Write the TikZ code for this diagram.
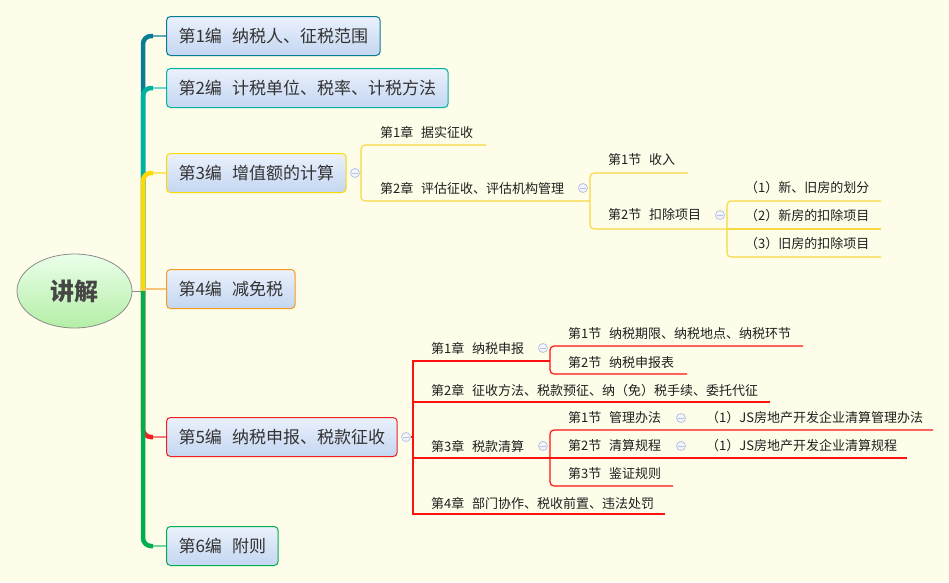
\documentclass[tikz,border=0pt]{standalone}
\usepackage{fontspec}
\newfontfamily\cjk{Noto Sans CJK SC}
\usetikzlibrary{shapes.geometric}
\pgfdeclarelayer{bgl}
\pgfdeclarelayer{lines}
\pgfsetlayers{bgl,lines,main}
\definecolor{bgc}{HTML}{FDFDE9}
\definecolor{boxtop}{HTML}{EAF1FC}
\definecolor{boxbot}{HTML}{C4D6F1}
\definecolor{txt}{HTML}{333333}
\definecolor{cA}{HTML}{087C94}
\definecolor{cAl}{HTML}{5FA9BA}
\definecolor{cB}{HTML}{00B2A0}
\definecolor{cBl}{HTML}{6FD6CB}
\definecolor{cC}{HTML}{FFD900}
\definecolor{cCl}{HTML}{FFE766}
\definecolor{cD}{HTML}{F59A23}
\definecolor{cDl}{HTML}{FBC27A}
\definecolor{cE}{HTML}{F02020}
\definecolor{cEl}{HTML}{F77A7A}
\definecolor{cF}{HTML}{00AE4F}
\definecolor{cFl}{HTML}{70D69A}
\definecolor{ylwline}{HTML}{F8D740}
\definecolor{redline}{HTML}{FF1010}
\definecolor{collc}{HTML}{B7C3E2}
\definecolor{collf}{HTML}{F3F5FB}
\newcommand{\gapx}{\hspace{0.6em}}
\tikzset{
  topic/.style={draw, line width=1pt, rounded corners=4pt, top color=boxtop, bottom color=boxbot,
    minimum height=39pt, inner xsep=12pt, inner ysep=0pt, anchor=west, text=txt,
    font=\cjk\fontsize{17pt}{20pt}\selectfont},
  lbl/.style={anchor=west, inner sep=0pt, text=black!88, font=\cjk\fontsize{13pt}{15pt}\selectfont},
  coll/.style={circle, draw=collc, fill=collf, minimum size=9pt, inner sep=0pt, line width=0.8pt,
    path picture={\draw[collc, line width=0.8pt] ([xshift=-2.6pt]path picture bounding box.center) -- ([xshift=2.6pt]path picture bounding box.center);}},
  spine/.style={line width=4.5pt, rounded corners=8pt},
  stub/.style={line width=1.6pt},
  ylw/.style={draw=ylwline, line width=1.1pt, rounded corners=4pt},
  rd/.style={draw=redline, line width=1.2pt},
  rdr/.style={rd, rounded corners=4pt}
}
\begin{document}
\begin{tikzpicture}[x=1pt, y={(0pt,-1pt)}]
\useasboundingbox (0,0) rectangle (949,582);
\begin{pgfonlayer}{bgl}
\fill[bgc] (0,0) rectangle (949,582);
\end{pgfonlayer}

% root
\node[ellipse, draw=black!45, line width=0.8pt, top color=green!8!white, bottom color={rgb,255:red,180;green,238;blue,165},
  minimum width=115pt, minimum height=74pt, inner sep=0pt, text={rgb,255:red,70;green,70;blue,70},
  font=\cjk\bfseries\fontsize{24pt}{26pt}\selectfont] (root) at (74.5,291) {讲解};

% main topics
\node[topic, draw=cA] (B1) at (166,36) {第1编\gapx 纳税人、征税范围};
\node[topic, draw=cB] (B2) at (166,88) {第2编\gapx 计税单位、税率、计税方法};
\node[topic, draw=cC] (B3) at (166,173) {第3编\gapx 增值额的计算};
\node[topic, draw=cD] (B4) at (166,289) {第4编\gapx 减免税};
\node[topic, draw=cE] (B5) at (166,437) {第5编\gapx 纳税申报、税款征收};
\node[topic, draw=cF] (B6) at (166,546) {第6编\gapx 附则};

% spine coordinates
\coordinate (J) at (143,291);
\coordinate (J4) at (143,289);
\coordinate (e1) at (153,36);
\coordinate (e2) at (153,88);
\coordinate (e3) at (153,173);
\coordinate (e5) at (153,437);
\coordinate (e6) at (153,546);

\begin{pgfonlayer}{lines}
\draw[black!45, line width=1pt] (root.east) -- (J);
\draw[spine, cA] (J) |- (e1);
\draw[stub, cAl] (e1) -- (B1.west);
\draw[spine, cB] (J) |- (e2);
\draw[stub, cBl] (e2) -- (B2.west);
\draw[spine, cC] (J) |- (e3);
\draw[stub, cCl] (e3) -- (B3.west);
\draw[stub, cDl, line width=2pt] (J4) -- (B4.west);
\draw[spine, cE] (J) |- (e5);
\draw[stub, cEl] (e5) -- (B5.west);
\draw[spine, cF] (J) |- (e6);
\draw[stub, cFl] (e6) -- (B6.west);
\end{pgfonlayer}

% ---------- branch 3 subtree ----------
\coordinate (k3) at (361,173);
\coordinate (u31) at (486,145);
\coordinate (k32) at (590,201);
\coordinate (u321) at (688,173);
\coordinate (k322) at (727,229);
\coordinate (u3221) at (881,201);
\coordinate (u3222) at (881,229);
\coordinate (u3223) at (881,257);

\node[coll] (c3) at (355,173) {};
\begin{pgfonlayer}{lines}
\draw[ylw] (c3.east) -- (k3);
\draw[ylw] (u31) -| (k3) |- (k32);
\draw[ylw] (u321) -| (k32) |- (k322);
\draw[ylw] (u3221) -| (k322) |- (u3223);
\draw[ylw] (k322) -- (u3222);
\end{pgfonlayer}

\node[lbl] (t31) at (380,132) {第1章\gapx 据实征收};
\node[lbl] (t32) at (380,188) {第2章\gapx 评估征收、评估机构管理};
\node[coll] (c32) at (583,188) {};
\node[lbl] (t321) at (608,160) {第1节\gapx 收入};
\node[lbl] (t322) at (608,215) {第2节\gapx 扣除项目};
\node[coll] (c322) at (720,215) {};
\node[lbl] (t3221) at (745,188) {（1）新、旧房的划分};
\node[lbl] (t3222) at (745,216) {（2）新房的扣除项目};
\node[lbl] (t3223) at (745,244) {（3）旧房的扣除项目};

% ---------- branch 5 subtree ----------
\coordinate (k5) at (413,437);
\coordinate (k51) at (550,361);
\coordinate (u52) at (770,402);
\coordinate (k53) at (550,458);
\coordinate (u54) at (665,514);
\coordinate (u511) at (803,346);
\coordinate (u512) at (687,374);
\coordinate (u531) at (933,430);
\coordinate (u532) at (907,458);
\coordinate (u533) at (673,486);

\node[coll] (c5) at (406,437) {};
\begin{pgfonlayer}{lines}
\draw[rd] (c5.east) -- (k5);
\draw[rd] (k51) -| (k5) |- (u54);
\draw[rd] (k5) |- (u52);
\draw[rd] (k5) |- (k53);
\draw[rdr] (u511) -| (k51) |- (u512);
\draw[rdr] (u531) -| (k53) |- (u533);
\draw[rd] (k53) -- (u532);
\end{pgfonlayer}

\node[lbl] (t51) at (431,348) {第1章\gapx 纳税申报};
\node[coll] (c51) at (543,348) {};
\node[lbl] (t52) at (431,391) {第2章\gapx 征收方法、税款预征、纳（免）税手续、委托代征};
\node[lbl] (t53) at (431,446) {第3章\gapx 税款清算};
\node[coll] (c53) at (543,446) {};
\node[lbl] (t54) at (431,503) {第4章\gapx 部门协作、税收前置、违法处罚};

\node[lbl] (t511) at (568,334) {第1节\gapx 纳税期限、纳税地点、纳税环节};
\node[lbl] (t512) at (568,363) {第2节\gapx 纳税申报表};
\node[lbl] (t531) at (568,418) {第1节\gapx 管理办法};
\node[coll] (c531) at (681,418) {};
\node[lbl] (t532) at (568,446) {第2节\gapx 清算规程};
\node[coll] (c532) at (681,446) {};
\node[lbl] (t533) at (568,474) {第3节\gapx 鉴证规则};
\node[lbl] (t5311) at (706,418) {（1）JS房地产开发企业清算管理办法};
\node[lbl] (t5321) at (706,446) {（1）JS房地产开发企业清算规程};
\end{tikzpicture}
\end{document}
